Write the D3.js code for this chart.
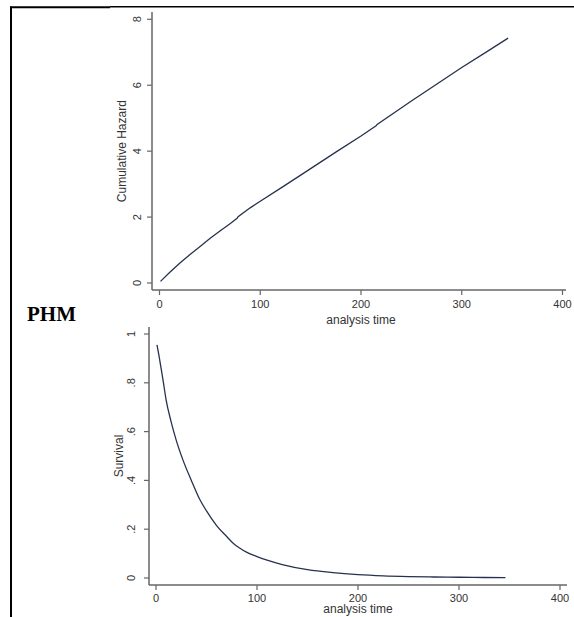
<!DOCTYPE html>
<html>
<head>
<meta charset="utf-8">
<script src="https://cdn.jsdelivr.net/npm/d3@7"></script>
<style>
  body { margin: 0; background: #fff; }
  svg { display: block; }
  .tick-lbl { font-family: "Liberation Sans", Arial, sans-serif; font-size: 11px; fill: #333; }
  .ax-title { font-family: "Liberation Sans", Arial, sans-serif; font-size: 12px; fill: #333; }
</style>
</head>
<body>
<svg id="chart" width="574" height="617"></svg>
<script>
// cumulative hazard
var hazTime = [1, 10, 20, 30, 40, 50, 60, 70, 77, 78, 90, 100, 123, 150, 175, 200, 215, 216, 250, 275, 300, 325, 346];
var hazVal  = [0.05, 0.32, 0.6, 0.86, 1.1, 1.35, 1.58, 1.8, 1.96, 2.01, 2.28, 2.48, 2.93, 3.47, 3.97, 4.46, 4.77, 4.81, 5.52, 6.03, 6.54, 7.02, 7.43];

// survival
var survTime = [1, 3, 5, 7, 10, 15, 20, 27, 35, 43, 50, 60, 70, 77, 82, 90, 100, 110, 125, 150, 175, 200, 225, 250, 275, 300, 325, 346];
var survVal  = [0.955, 0.91, 0.86, 0.81, 0.73, 0.64, 0.565, 0.48, 0.40, 0.325, 0.275, 0.215, 0.17, 0.14, 0.125, 0.105, 0.088, 0.073, 0.055, 0.034, 0.022, 0.014, 0.009, 0.006, 0.004, 0.003, 0.002, 0.0015];

var xTicks = [0, 100, 200, 300, 400];
var hazTicks = [0, 2, 4, 6, 8];
var survTicks = [0, 0.2, 0.4, 0.6, 0.8, 1];
var survTickLbl = ['0', '.2', '.4', '.6', '.8', '1'];

var svg = d3.select('#chart');
var lineCol = '#26324d', axCol = '#666';

// frame of the table cell
svg.append('line').attr('x1', 10).attr('x2', 110).attr('y1', 7.3).attr('y2', 7.3)
   .attr('stroke', '#000').attr('stroke-width', 2);
svg.append('line').attr('x1', 110).attr('x2', 574).attr('y1', 6.7).attr('y2', 6.7)
   .attr('stroke', '#000').attr('stroke-width', 1.4);
svg.append('line').attr('x1', 11).attr('x2', 11).attr('y1', 6.5).attr('y2', 617)
   .attr('stroke', '#000').attr('stroke-width', 2);

// PHM label
svg.append('text').attr('x', 27).attr('y', 321)
   .style('font-family', '"Liberation Serif", "Times New Roman", serif')
   .style('font-weight', 'bold').style('font-size', '21px')
   .text('PHM');

function panel(p){
  var g = svg.append('g');
  var x = d3.scaleLinear().domain([0, 400]).range(p.xr);
  var y = d3.scaleLinear().domain(p.yd).range(p.yr);

  // axis lines
  g.append('line').attr('x1', p.ax).attr('x2', p.ax).attr('y1', p.axTop).attr('y2', p.ay)
   .attr('stroke', axCol).attr('stroke-width', 1.5);
  g.append('line').attr('x1', p.ax).attr('x2', p.axRight).attr('y1', p.ay).attr('y2', p.ay)
   .attr('stroke', axCol).attr('stroke-width', 1.5);

  // x ticks
  xTicks.forEach(function(t){
    g.append('line').attr('x1', x(t)).attr('x2', x(t)).attr('y1', p.ay).attr('y2', p.ay + 5)
     .attr('stroke', axCol).attr('stroke-width', 1.2);
    g.append('text').attr('class', 'tick-lbl').attr('x', x(t)).attr('y', p.ay + p.xlOff)
     .attr('text-anchor', 'middle').text(t);
  });

  // y ticks, labels turned like Stata does
  p.yTicks.forEach(function(t, i){
    g.append('line').attr('x1', p.ax - 5).attr('x2', p.ax).attr('y1', y(t)).attr('y2', y(t))
     .attr('stroke', axCol).attr('stroke-width', 1.2);
    g.append('text').attr('class', 'tick-lbl')
     .attr('transform', 'translate(' + (p.ax - p.ylOff) + ',' + y(t) + ') rotate(-90)')
     .attr('text-anchor', 'middle').text(p.yLbl[i]);
  });

  g.append('text').attr('class', 'ax-title').attr('x', p.xtX).attr('y', p.xtY)
   .attr('text-anchor', 'middle').text('analysis time');
  g.append('text').attr('class', 'ax-title')
   .attr('transform', 'translate(' + p.ytX + ',' + ((p.yr[0] + p.yr[1]) / 2) + ') rotate(-90)')
   .attr('text-anchor', 'middle').text(p.yTitle);

  var line = d3.line().curve(p.curve)
    .x(function(d){ return x(d[0]); }).y(function(d){ return y(d[1]); });
  g.append('path').datum(d3.zip(p.tx, p.ty))
   .attr('d', line).attr('fill', 'none')
   .attr('stroke', lineCol).attr('stroke-width', 1.3);
}

panel({
  xr: [159.5, 562.5], yd: [0, 8], yr: [283, 19.3],
  ax: 152, ay: 290, axTop: 12, axRight: 566,
  xlOff: 18, ylOff: 11,
  yTicks: hazTicks, yLbl: hazTicks,
  xtX: 361, xtY: 324, ytX: 126, yTitle: 'Cumulative Hazard',
  tx: hazTime, ty: hazVal, curve: d3.curveLinear
});

panel({
  xr: [156, 560], yd: [0, 1], yr: [578, 334],
  ax: 149, ay: 585, axTop: 327, axRight: 567,
  xlOff: 16.5, ylOff: 14,
  yTicks: survTicks, yLbl: survTickLbl,
  xtX: 358, xtY: 613, ytX: 123, yTitle: 'Survival',
  tx: survTime, ty: survVal, curve: d3.curveMonotoneX
});
</script>
</body>
</html>
